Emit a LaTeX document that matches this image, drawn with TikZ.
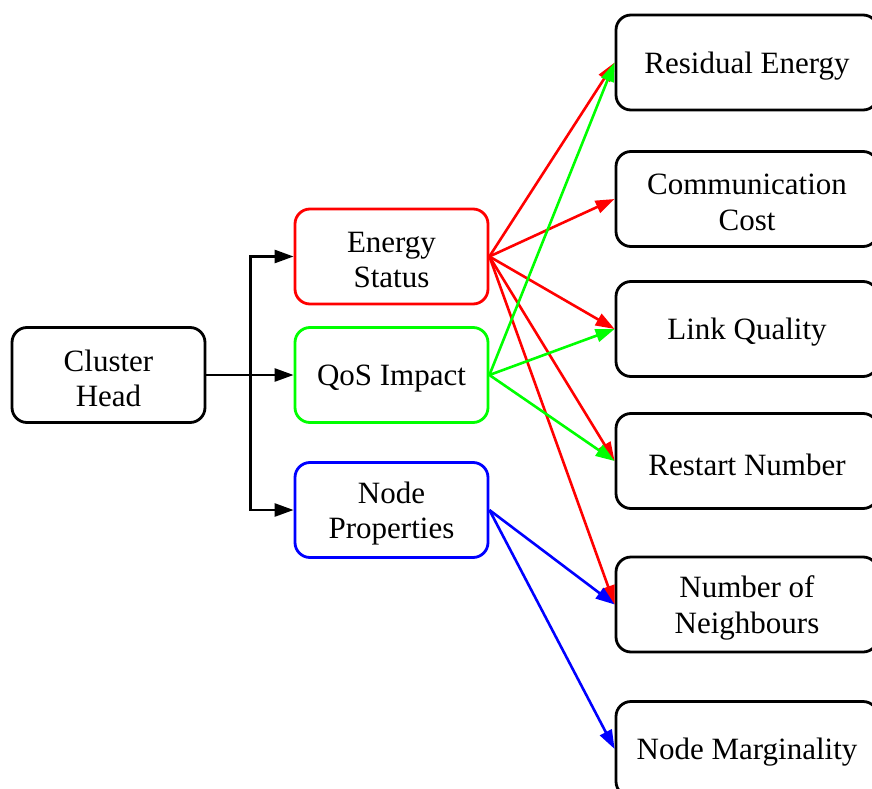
\documentclass[tikz,border=0pt]{standalone}
\usepackage{fontspec}
\setmainfont{Liberation Serif}
\usetikzlibrary{arrows.meta}
\begin{document}
\begin{tikzpicture}[x=1pt,y=-1pt,
  box/.style={draw, line width=2.8pt, rounded corners=15pt, inner sep=0pt, fill=white},
  lbl/.style={align=center, font=\fontsize{31}{35.5}\selectfont, yshift=-3.5pt},
  midbox/.style={box, minimum width=193pt, minimum height=95pt},
  leafbox/.style={box, minimum width=262pt, minimum height=95pt},
  conn/.style={line width=2.6pt, -{Triangle[length=19pt,width=13pt]}}
]
% page area
\clip (0,0) rectangle (872,789);
\fill[white] (0,0) rectangle (872,789);

% root and categories
\node[midbox, label={[lbl]center:{Cluster\\Head}}] (ch) at (108.5,375) {};
\node[midbox, draw=red, label={[lbl]center:{Energy\\Status}}] (es) at (391.5,256.5) {};
\node[midbox, draw=green, label={[lbl]center:{QoS Impact}}] (qos) at (391.5,375) {};
\node[midbox, draw=blue, label={[lbl]center:{Node\\Properties}}] (np) at (391.5,510) {};

% attributes
\node[leafbox, label={[lbl]center:{Residual Energy}}] (re) at (747,62.5) {};
\node[leafbox, label={[lbl]center:{Communication\\Cost}}] (cc) at (747,199) {};
\node[leafbox, label={[lbl]center:{Link Quality}}] (lq) at (747,329) {};
\node[leafbox, label={[lbl]center:{Restart Number}}] (rn) at (747,461) {};
\node[leafbox, label={[lbl]center:{Number of\\Neighbours}}] (nn) at (747,604.5) {};
\node[leafbox, label={[lbl]center:{Node Marginality}}] (nm) at (747,749) {};

% tree from the cluster head
\draw[conn] (ch.east) -- ++(44,0) |- (es.west);
\draw[conn] (ch.east) -- (qos.west);
\draw[conn] (ch.east) -- ++(44,0) |- (np.west);

% energy status links
\foreach \t in {re,cc,lq,rn,nn}
  \draw[conn, red] (es.east) -- (\t.west);
% QoS links
\foreach \t in {re,lq,rn}
  \draw[conn, green] (qos.east) -- (\t.west);
% node property links
\foreach \t in {nn,nm}
  \draw[conn, blue] (np.east) -- (\t.west);
\end{tikzpicture}
\end{document}
